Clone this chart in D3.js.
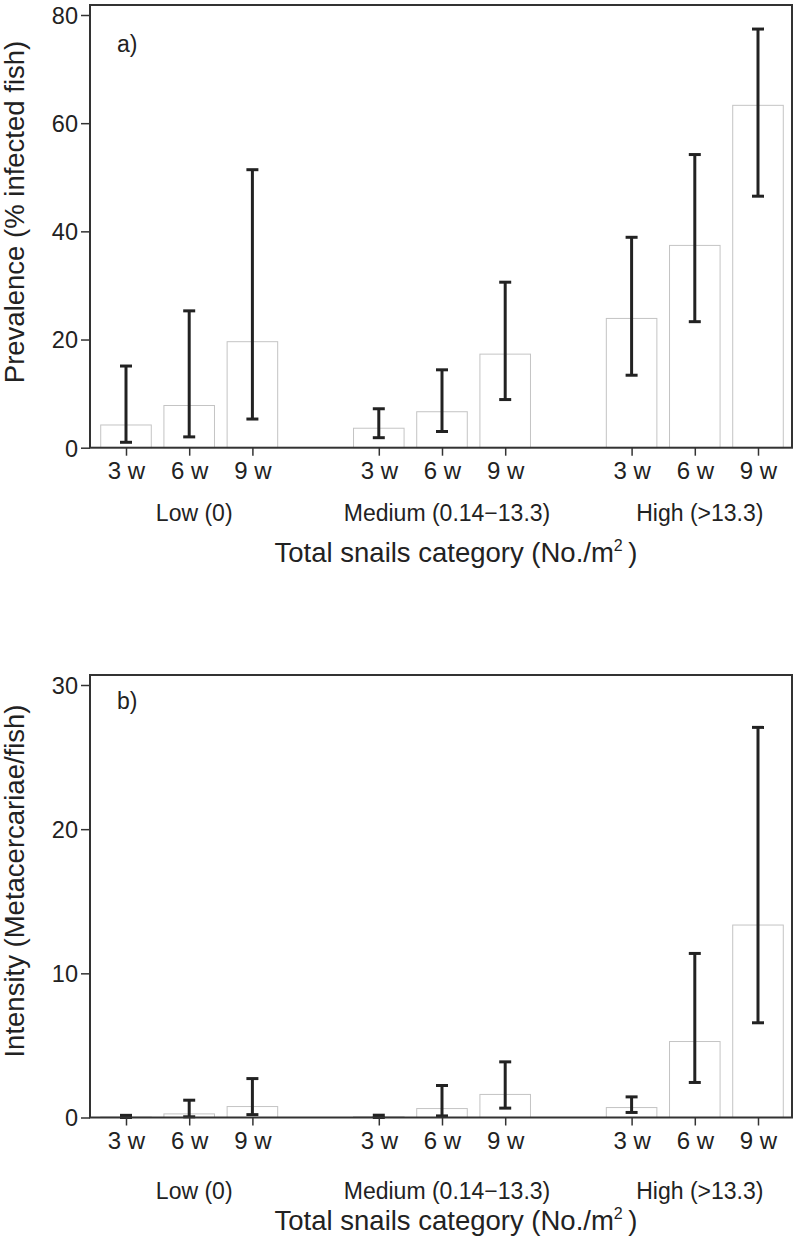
<!DOCTYPE html>
<html>
<head>
<meta charset="utf-8">
<script src="https://cdn.jsdelivr.net/npm/d3@7/dist/d3.min.js"></script>
<style>
  html, body { margin: 0; padding: 0; background: #fff; }
  svg { display: block; font-family: "Liberation Sans", Arial, Helvetica, sans-serif; }
</style>
</head>
<body>
<svg id="chart" width="798" height="1242"></svg>
<script>
// ---------- data ----------
const groups = ["Low (0)", "Medium (0.14\u221213.3)", "High (>13.3)"];
const weeks = ["3 w", "6 w", "9 w"];

const prevalence = [4.2, 7.8, 19.6, 3.6, 6.65, 17.3, 23.9, 37.4, 63.3];
const prevLower  = [1.0, 2.0, 5.3, 1.85, 3.0, 8.9, 13.4, 23.3, 46.5];
const prevUpper  = [15.1, 25.3, 51.4, 7.2, 14.4, 30.6, 38.9, 54.2, 77.4];

const intensity = [0.03, 0.25, 0.76, 0.05, 0.62, 1.6, 0.69, 5.27, 13.35];
const intLower  = [0.0, 0.05, 0.2, 0.0, 0.11, 0.65, 0.35, 2.43, 6.57];
const intUpper  = [0.15, 1.2, 2.7, 0.16, 2.22, 3.86, 1.43, 11.38, 27.06];

const prevTicks = [0, 20, 40, 60, 80];
const intTicks = [0, 10, 20, 30];

// ---------- layout ----------
const svg = d3.select("#chart");
const FONT = "\"Liberation Sans\", Arial, Helvetica, sans-serif";
const TXT = "#222";

// slot keys: 3 groups of 3 weeks with an empty slot between groups
const slotKeys = [];
groups.forEach((g, gi) => {
  weeks.forEach(w => slotKeys.push(g + "|" + w));
  if (gi < groups.length - 1) slotKeys.push("gap" + gi);
});

function rows(vals, lo, hi) {
  const out = [];
  groups.forEach((g, gi) => weeks.forEach((w, wi) => {
    const i = gi * 3 + wi;
    out.push({ key: g + "|" + w, group: g, week: w, v: vals[i], lo: lo[i], hi: hi[i] });
  }));
  return out;
}

function panel(cfg) {
  const left = 90, right = 792;
  const top = cfg.top, bottom = cfg.bottom;
  const g = svg.append("g");

  const x = d3.scalePoint().domain(slotKeys).range([126, 758]);
  const bw = x.step() * 0.8;
  const y = d3.scaleLinear().domain([0, cfg.tickMax]).range([bottom, cfg.tickTopY]);

  const data = rows(cfg.vals, cfg.lo, cfg.hi);

  // bars
  g.selectAll("rect.bar").data(data).join("rect")
    .attr("class", "bar")
    .attr("x", d => x(d.key) - bw / 2)
    .attr("width", bw)
    .attr("y", d => y(d.v))
    .attr("height", d => Math.max(0, y(0) - y(d.v)))
    .attr("fill", "#fff")
    .attr("stroke", "#c4c4c4")
    .attr("stroke-width", 1);

  // error bars
  const capW = 12;
  const eb = g.selectAll("g.eb").data(data).join("g").attr("class", "eb");
  eb.append("line")
    .attr("x1", d => x(d.key)).attr("x2", d => x(d.key))
    .attr("y1", d => y(d.lo)).attr("y2", d => y(d.hi))
    .attr("stroke", "#222").attr("stroke-width", 3);
  eb.append("line")
    .attr("x1", d => x(d.key) - capW / 2).attr("x2", d => x(d.key) + capW / 2)
    .attr("y1", d => y(d.hi)).attr("y2", d => y(d.hi))
    .attr("stroke", "#222").attr("stroke-width", 3);
  eb.append("line")
    .attr("x1", d => x(d.key) - capW / 2).attr("x2", d => x(d.key) + capW / 2)
    .attr("y1", d => y(d.lo)).attr("y2", d => y(d.lo))
    .attr("stroke", "#222").attr("stroke-width", 3);

  // frame
  g.append("rect")
    .attr("x", left).attr("y", top)
    .attr("width", right - left).attr("height", bottom - top)
    .attr("fill", "none").attr("stroke", "#333").attr("stroke-width", 2);

  // y axis
  const yAxis = g.append("g").attr("transform", `translate(${left},0)`)
    .call(d3.axisLeft(y).tickValues(cfg.ticks).tickSize(9).tickPadding(3).tickFormat(d3.format("d")));
  yAxis.select(".domain").remove();
  yAxis.selectAll(".tick line").attr("stroke", "#333").attr("stroke-width", 1.5);
  yAxis.selectAll(".tick text").attr("font-size", 23.5).attr("font-family", FONT).attr("fill", TXT)
    .attr("dy", "0.36em");

  // x axis
  const weekKeys = slotKeys.filter(k => !k.startsWith("gap"));
  const xAxis = g.append("g").attr("transform", `translate(0,${bottom})`)
    .call(d3.axisBottom(x).tickValues(weekKeys).tickSize(8).tickPadding(6).tickFormat(k => k.split("|")[1]));
  xAxis.select(".domain").remove();
  xAxis.selectAll(".tick line").attr("stroke", "#333").attr("stroke-width", 1.5);
  xAxis.selectAll(".tick text").attr("font-size", 24).attr("font-family", FONT).attr("fill", TXT)
    .attr("dy", null).attr("y", 31).attr("dominant-baseline", "alphabetic");

  // group labels
  g.selectAll("text.grp").data(groups).join("text")
    .attr("class", "grp")
    .attr("x", gname => x(gname + "|6 w") + 5)
    .attr("y", bottom + cfg.groupOff)
    .attr("text-anchor", "middle")
    .attr("font-size", 23).attr("font-family", FONT).attr("fill", TXT)
    .text(d => d);

  // x title
  const xt = g.append("text")
    .attr("x", 456).attr("y", bottom + cfg.titleOff)
    .attr("text-anchor", "middle")
    .attr("font-size", 27.5).attr("font-family", FONT).attr("fill", TXT);
  xt.append("tspan").text("Total snails category (No./m");
  xt.append("tspan").attr("dy", -11).attr("font-size", 16).text("2");
  xt.append("tspan").attr("dy", 11).text("\u2009)");

  // y title
  g.append("text")
    .attr("transform", `translate(24,${cfg.yTitleY}) rotate(-90)`)
    .attr("text-anchor", "middle")
    .attr("font-size", 27.5).attr("font-family", FONT).attr("fill", TXT)
    .text(cfg.yTitle);

  // panel label
  g.append("text")
    .attr("x", 117).attr("y", top + cfg.labelOff)
    .attr("font-size", 23).attr("font-family", FONT).attr("fill", TXT)
    .text(cfg.label);
}

panel({
  top: 5, bottom: 447.7, tickMax: 80, tickTopY: 15,
  vals: prevalence, lo: prevLower, hi: prevUpper, ticks: prevTicks,
  groupOff: 73, titleOff: 114, yTitle: "Prevalence (% infected fish)", yTitleY: 212,
  label: "a)", labelOff: 47
});

panel({
  top: 675, bottom: 1117.5, tickMax: 30, tickTopY: 685,
  vals: intensity, lo: intLower, hi: intUpper, ticks: intTicks,
  groupOff: 81, titleOff: 112.5, yTitle: "Intensity (Metacercariae/fish)", yTitleY: 881,
  label: "b)", labelOff: 34
});
</script>
</body>
</html>
